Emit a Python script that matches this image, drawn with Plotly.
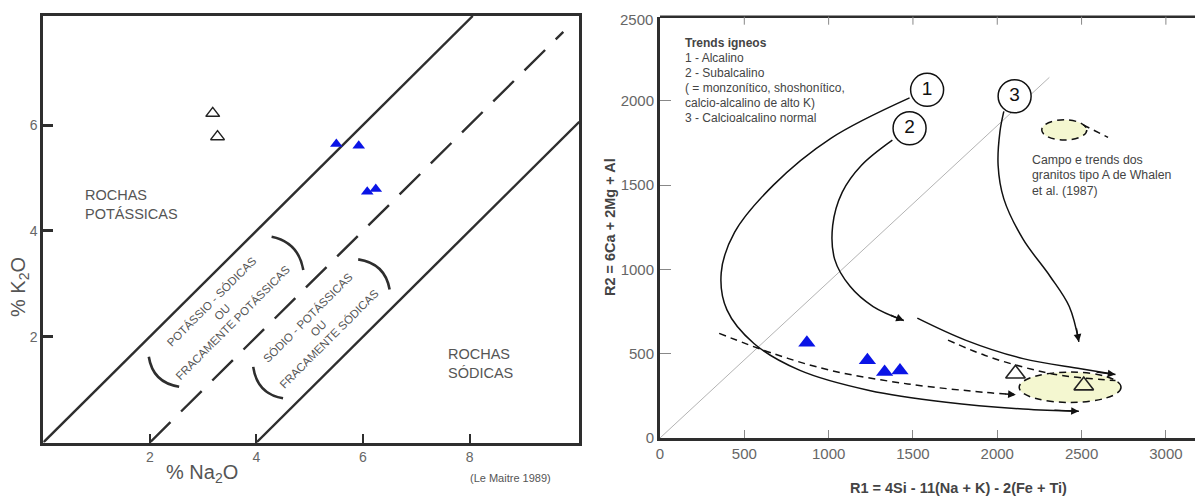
import plotly.graph_objects as go

# ---------------- Left chart data (Le Maitre 1989) ----------------
na2o_open = [3.18, 3.27]
k2o_open = [6.22, 5.78]
na2o_blue = [5.50, 5.92, 6.08, 6.24]
k2o_blue = [5.64, 5.61, 4.74, 4.79]

# boundary lines K2O = Na2O - offset
bound_solid1_x = [0, 8.06]
bound_solid1_y = [0, 8.06]
bound_dash_x = [2, 9.76]
bound_dash_y = [0, 7.76]
bound_solid2_x = [4, 10.06]
bound_solid2_y = [0, 6.06]

x_ticks_left = [2, 4, 6, 8]
y_ticks_left = [2, 4, 6]

# ---------------- Right chart data (R1-R2) ----------------
r1_blue = [871, 1230, 1332, 1423]
r2_blue = [565, 461, 391, 401]
r1_open = [2108, 2513]
r2_open = [381, 311]

diag_r1 = [0, 2309]
diag_r2 = [0, 2140]

trend1_r1 = [1480, 1013, 671, 442, 363, 397, 557, 830, 1241, 1697, 2153, 2484]
trend1_r2 = [2018, 1778, 1499, 1220, 980, 760, 561, 401, 282, 212, 172, 158]

trend2a_r1 = [1378, 1195, 1081, 1024, 1036, 1127, 1264, 1446]
trend2a_r2 = [1768, 1619, 1459, 1260, 1060, 900, 780, 697]

trend2b_r1 = [1526, 1811, 2153, 2495, 2701]
trend2b_r2 = [711, 581, 471, 411, 377]

trend3_r1 = [2039, 2016, 2005, 2039, 2153, 2313, 2427, 2484]
trend3_r2 = [1938, 1818, 1619, 1419, 1180, 960, 780, 571]

dash1_r1 = [351, 671, 1013, 1469, 1925, 2100]
dash1_r2 = [621, 501, 401, 321, 271, 258]

dash2_r1 = [1708, 1925, 2153, 2381, 2701]
dash2_r2 = [581, 491, 421, 371, 341]

tailA_r1 = [2509, 2657]
tailA_r2 = [1858, 1784]

circle_r1 = [1584, 1480, 2103]
circle_r2 = [2066, 1838, 2028]
circle_labels = ["1", "2", "3"]

x_ticks_right = [0, 500, 1000, 1500, 2000, 2500, 3000]
y_ticks_right = [0, 500, 1000, 1500, 2000, 2500]

legend_lines = ["<b>Trends igneos</b>", "1 - Alcalino", "2 - Subalcalino",
                "( = monzonítico, shoshonítico,", "calcio-alcalino de alto K)",
                "3 - Calcioalcalino normal"]
whalen_lines = ["Campo e trends dos", "granitos tipo A de Whalen", "et al. (1987)"]

FRAME = "#2e2e2e"
TXT = "#555555"
FONT = "Liberation Sans, Arial, sans-serif"
W, H, OFF = 1203, 498, 8  # page body margin offset


def PX(sx):
    return (sx - OFF) / W


def PY(sy):
    return 1 - (sy - OFF) / H


R_TOP, R_BOT = 16.7, 438.0  # screen px of right plot area
R_DOM_H = R_BOT - R_TOP

fig = go.Figure()

# ---- left traces ----
fig.add_trace(go.Scatter(x=bound_solid1_x, y=bound_solid1_y, mode="lines",
                         line=dict(color=FRAME, width=2.4), xaxis="x", yaxis="y", hoverinfo="skip"))
fig.add_trace(go.Scatter(x=bound_dash_x, y=bound_dash_y, mode="lines",
                         line=dict(color=FRAME, width=2.4, dash="29px,15px"), xaxis="x", yaxis="y",
                         hoverinfo="skip"))
fig.add_trace(go.Scatter(x=bound_solid2_x, y=bound_solid2_y, mode="lines",
                         line=dict(color=FRAME, width=2.4), xaxis="x", yaxis="y", hoverinfo="skip"))
fig.add_trace(go.Scatter(x=na2o_open, y=k2o_open, mode="markers",
                         marker=dict(symbol="triangle-up-open", size=12, color="#222", line=dict(width=1.5)),
                         xaxis="x", yaxis="y"))
fig.add_trace(go.Scatter(x=na2o_blue, y=k2o_blue, mode="markers",
                         marker=dict(symbol="triangle-up", size=11, color="#0a14e6", line=dict(width=0)),
                         xaxis="x", yaxis="y"))

# ---- right traces ----
fig.add_trace(go.Scatter(x=diag_r1, y=diag_r2, mode="lines",
                         line=dict(color="#a0a0a0", width=0.8), xaxis="x2", yaxis="y2", hoverinfo="skip"))
for xs, ys in [(trend1_r1, trend1_r2), (trend2a_r1, trend2a_r2), (trend2b_r1, trend2b_r2),
               (trend3_r1, trend3_r2)]:
    fig.add_trace(go.Scatter(x=xs, y=ys, mode="lines", line=dict(color="#111", width=1.5, shape="spline"),
                             xaxis="x2", yaxis="y2", hoverinfo="skip"))
for xs, ys in [(dash1_r1, dash1_r2), (dash2_r1, dash2_r2), (tailA_r1, tailA_r2)]:
    fig.add_trace(go.Scatter(x=xs, y=ys, mode="lines",
                             line=dict(color="#111", width=1.5, dash="7px,5px", shape="spline"),
                             xaxis="x2", yaxis="y2", hoverinfo="skip"))
fig.add_trace(go.Scatter(x=circle_r1, y=circle_r2, mode="markers+text", text=circle_labels,
                         textposition="middle center", textfont=dict(size=19, color="#111", family=FONT),
                         marker=dict(symbol="circle", size=33, color="white", line=dict(color="#111", width=1.5)),
                         xaxis="x2", yaxis="y2", hoverinfo="skip"))
fig.add_trace(go.Scatter(x=r1_blue, y=r2_blue, mode="markers",
                         marker=dict(symbol="triangle-up", size=15, color="#0a14e6", line=dict(width=0)),
                         xaxis="x2", yaxis="y2"))
fig.add_trace(go.Scatter(x=r1_open, y=r2_open, mode="markers",
                         marker=dict(symbol="triangle-up-open", size=17, color="#222", line=dict(width=1.6)),
                         xaxis="x2", yaxis="y2"))
# invisible trace for right-side tick axis
fig.add_trace(go.Scatter(x=[0], y=[0], mode="markers", marker=dict(opacity=0), xaxis="x2", yaxis="y3",
                         hoverinfo="skip"))

shapes = []
# left chart parentheses arcs (quadratic curves in data coords)
arcs = [
    ((4.285, 3.89), (4.79, 3.785), (4.88, 3.26)),
    ((1.98, 1.62), (2.055, 1.13), (2.55, 1.055)),
    ((5.91, 3.46), (6.415, 3.385), (6.50, 2.89)),
    ((3.94, 1.43), (4.01, 0.92), (4.50, 0.835)),
]
for p0, c, p2 in arcs:
    shapes.append(dict(type="path", xref="x", yref="y",
                       path=f"M {p0[0]},{p0[1]} Q {c[0]},{c[1]} {p2[0]},{p2[1]}",
                       line=dict(color=FRAME, width=2.6)))
# right chart ellipses
shapes.append(dict(type="circle", xref="x2", yref="y2", x0=2130, x1=2734, y0=211, y1=391,
                   fillcolor="#f4f7d0", line=dict(color="#111", width=1.5, dash="7px,5px"), layer="below"))
shapes.append(dict(type="circle", xref="x2", yref="y2", x0=2264, x1=2531, y0=1768, y1=1888,
                   fillcolor="#f4f7d0", line=dict(color="#111", width=1.5, dash="7px,5px"), layer="below"))
# right chart top border and top ticks
shapes.append(dict(type="line", xref="x2 domain", yref="y2 domain", x0=0, x1=1, y0=1, y1=1,
                   line=dict(color=FRAME, width=2.5)))
for tv in x_ticks_right[1:]:
    shapes.append(dict(type="line", xref="x2", yref="y2 domain", x0=tv, x1=tv, y0=1, y1=1 - 8 / R_DOM_H,
                       line=dict(color="#888", width=1)))

annotations = []


def add_text(text, sx, sy, size, color=TXT, xanchor="center", yanchor="middle", angle=0, align="left"):
    annotations.append(dict(xref="paper", yref="paper", x=PX(sx), y=PY(sy), xanchor=xanchor,
                            yanchor=yanchor, text=text, showarrow=False, textangle=angle, align=align,
                            font=dict(size=size, color=color, family=FONT)))


# left texts
add_text("ROCHAS<br>POTÁSSICAS", 83, 204, 14.5, xanchor="left")
add_text("ROCHAS<br>SÓDICAS", 446, 363, 14.5, xanchor="left")
annotations.append(dict(xref="x", yref="y", x=3.36, y=2.47, textangle=-45, xanchor="center", yanchor="middle",
                        text="POTÁSSIO - SÓDICAS<br>OU<br>FRACAMENTE POTÁSSICAS", showarrow=False,
                        font=dict(size=11.5, color=TXT, family=FONT)))
annotations.append(dict(xref="x", yref="y", x=5.17, y=2.17, textangle=-45, xanchor="center", yanchor="middle",
                        text="SÓDIO - POTÁSSICAS<br>OU<br>FRACAMENTE SÓDICAS", showarrow=False,
                        font=dict(size=11.5, color=TXT, family=FONT)))
add_text("% Na<sub>2</sub>O", 202, 473, 20)
add_text("% K<sub>2</sub>O", 19, 287, 20, angle=-90)
add_text("(Le Maitre 1989)", 510, 478, 11)

# right texts
for i, line in enumerate(legend_lines):
    add_text(line, 683, 43 + i * 15.1, 12, color="#444", xanchor="left")
for i, line in enumerate(whalen_lines):
    add_text(line, 1030, 160 + i * 15.5, 12.3, color="#444", xanchor="left")
add_text("<b>R1 = 4Si - 11(Na + K) - 2(Fe + Ti)</b>", 958, 488, 14.5, color="#444")
add_text("<b>R2 = 6Ca + 2Mg + Al</b>", 610, 227, 14.5, color="#444", angle=-90)
# right-chart top tick label (kept inside the page)
add_text("2500", 655, 19, 15, color="#666", xanchor="right")

# arrowheads
arrows = [((2484, 158), (2330, 166)), ((1446, 697), (1360, 732)), ((2701, 377), (2580, 392)),
          ((2484, 571), (2468, 660)), ((2110, 257), (2040, 262))]
for tip, tail in arrows:
    annotations.append(dict(xref="x2", yref="y2", axref="x2", ayref="y2", x=tip[0], y=tip[1],
                            ax=tail[0], ay=tail[1], text="", showarrow=True, arrowhead=2,
                            arrowsize=1.1, arrowwidth=1.4, arrowcolor="#111"))

tickfont_l = dict(size=14, color="#666", family=FONT)
tickfont_r = dict(size=15, color="#666", family=FONT)
fig.update_layout(
    width=W, height=H, margin=dict(l=0, r=0, t=0, b=0, autoexpand=False),
    paper_bgcolor="white", plot_bgcolor="white", showlegend=False,
    shapes=shapes, annotations=annotations,
    xaxis=dict(domain=[PX(43.3), PX(579.3)], range=[0, 10.06], tickvals=x_ticks_left,
               showgrid=False, zeroline=False, showline=True, linecolor=FRAME, linewidth=2.8, mirror=True,
               ticks="inside", ticklen=9, tickwidth=2, tickcolor=FRAME, tickfont=tickfont_l),
    yaxis=dict(domain=[PY(442.5), PY(16)], range=[0, 8.06], tickvals=y_ticks_left,
               showgrid=False, zeroline=False, showline=True, linecolor=FRAME, linewidth=2.8, mirror=True,
               ticks="inside", ticklen=10, tickwidth=2.5, tickcolor=FRAME, tickfont=tickfont_l),
    xaxis2=dict(domain=[PX(660), PX(1205)], range=[0, 3232], tickvals=x_ticks_right, anchor="y2",
                showgrid=False, zeroline=False, showline=True, linecolor=FRAME, linewidth=3, mirror=False,
                ticks="inside", ticklen=8, tickwidth=1, tickcolor="#888", tickfont=tickfont_r),
    yaxis2=dict(domain=[PY(R_BOT), PY(R_TOP)], range=[0, 2500], tickvals=y_ticks_right,
                ticktext=["0", "500", "1000", "1500", "2000", ""],
                anchor="x2", showgrid=False, zeroline=False, showline=True, linecolor=FRAME, linewidth=3,
                ticks="inside", ticklen=11, tickwidth=1, tickcolor="#888", tickfont=tickfont_r),
    yaxis3=dict(domain=[PY(R_BOT), PY(R_TOP)], range=[0, 2500], tickvals=y_ticks_right,
                anchor="x2", overlaying="y2", side="right", showgrid=False, zeroline=False, showline=False,
                ticks="inside", ticklen=8, tickwidth=1, tickcolor="#888", showticklabels=False),
)

fig.write_html("out.html")
